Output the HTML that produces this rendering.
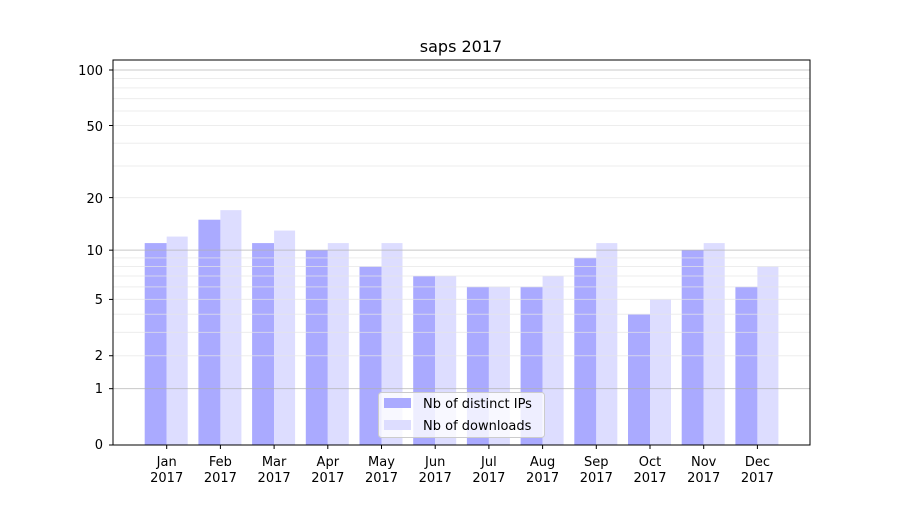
<!DOCTYPE html>
<html><head><style>
body{margin:0;background:#fff;}
svg text{font-family:"DejaVu Sans","Liberation Sans",sans-serif;fill:#000;}
</style></head><body>
<svg id="s" width="900" height="500" xmlns="http://www.w3.org/2000/svg">
<g id="bars"></g>
<g id="grid"></g>
<rect x="113" y="60" width="697" height="385" fill="none" stroke="#000" stroke-width="1"/>
<g id="ticks" stroke="#000"></g>
<text x="461" y="52" font-size="16" text-anchor="middle">saps 2017</text>
<g font-size="13" text-anchor="end">
<text x="103" y="449">0</text>
<text x="103" y="393">1</text>
<text x="103" y="360">2</text>
<text x="103" y="304">5</text>
<text x="103" y="255">10</text>
<text x="103" y="203">20</text>
<text x="103" y="131">50</text>
<text x="103" y="75">100</text>
</g>
<g font-size="13" text-anchor="middle">
<text x="166.7" y="466">Jan</text><text x="166.7" y="482">2017</text>
<text x="220.4" y="466">Feb</text><text x="220.4" y="482">2017</text>
<text x="274.1" y="466">Mar</text><text x="274.1" y="482">2017</text>
<text x="327.8" y="466">Apr</text><text x="327.8" y="482">2017</text>
<text x="381.5" y="466">May</text><text x="381.5" y="482">2017</text>
<text x="435.2" y="466">Jun</text><text x="435.2" y="482">2017</text>
<text x="488.9" y="466">Jul</text><text x="488.9" y="482">2017</text>
<text x="542.6" y="466">Aug</text><text x="542.6" y="482">2017</text>
<text x="596.3" y="466">Sep</text><text x="596.3" y="482">2017</text>
<text x="650.0" y="466">Oct</text><text x="650.0" y="482">2017</text>
<text x="703.7" y="466">Nov</text><text x="703.7" y="482">2017</text>
<text x="757.4" y="466">Dec</text><text x="757.4" y="482">2017</text>
</g>
<rect x="378.5" y="392.5" width="166" height="45" rx="3" fill="#fff" fill-opacity="0.8" stroke="#ccc"/>
<rect x="384" y="398" width="27" height="10" fill="#aaaaff"/>
<rect x="384" y="420" width="27" height="10" fill="#ddddff"/>
<g font-size="13"><text x="423" y="408">Nb of distinct IPs</text><text x="423" y="430">Nb of downloads</text></g>
</svg>
<script>
var ns="http://www.w3.org/2000/svg";
function Y(v){return 445-187.1*Math.log10(v+1);}
function el(p,t,a){var e=document.createElementNS(ns,t);for(var k in a)e.setAttribute(k,a[k]);p.appendChild(e);}
var ip=[11,15,11,10,8,7,6,6,9,4,10,6],dl=[12,17,13,11,11,7,6,7,11,5,11,8];
var b=document.getElementById('bars'),g=document.getElementById('grid'),t=document.getElementById('ticks');
for(var i=0;i<12;i++){var c=166.7+i*53.7;
el(b,'rect',{x:c-22,y:Y(ip[i]),width:22,height:445-Y(ip[i]),fill:'#aaaaff'});
el(b,'rect',{x:c,y:Y(dl[i]),width:21,height:445-Y(dl[i]),fill:'#ddddff'});
el(t,'line',{x1:c,x2:c,y1:445,y2:449});}
var minor=[2,3,4,5,6,7,8,9,20,30,40,50,60,70,80,90];
minor.forEach(function(v){el(g,'line',{x1:113,x2:810,y1:Y(v),y2:Y(v),stroke:'#e6e6e6','stroke-width':1,'stroke-opacity':0.7});});
[1,10,100].forEach(function(v){el(g,'line',{x1:113,x2:810,y1:Y(v),y2:Y(v),stroke:'#b0b0b0','stroke-width':1,'stroke-opacity':0.7});});
[0,1,2,5,10,20,50,100].forEach(function(v){el(t,'line',{x1:109,x2:113,y1:Y(v),y2:Y(v)});});
</script>
</body></html>
